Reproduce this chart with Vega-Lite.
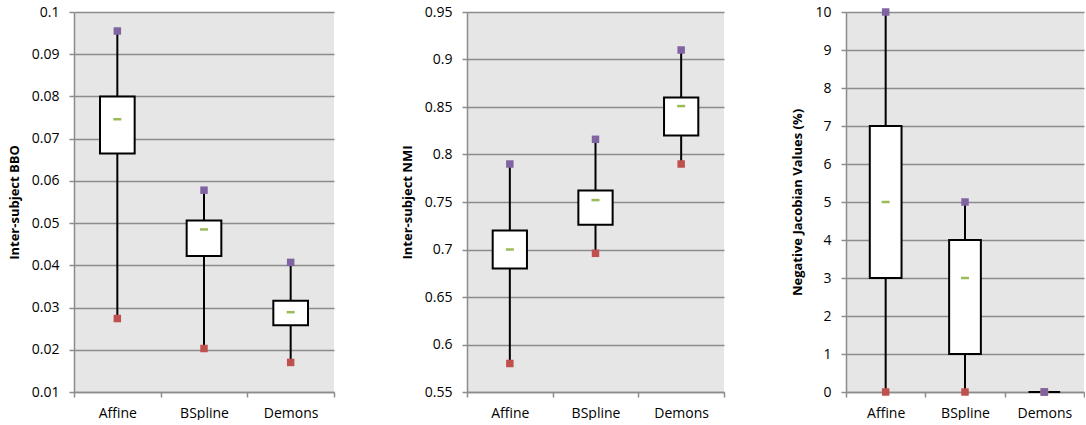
{
  "$schema": "https://vega.github.io/schema/vega-lite/v6.json",
  "background": "white",
  "padding": {"left": 8, "top": 5, "right": 0, "bottom": 0},
  "datasets": {
    "stats": [
      {"panel": "BBO", "method": "Affine", "min": 0.0274, "q1": 0.0665, "median": 0.0746, "q3": 0.08, "max": 0.0955},
      {"panel": "BBO", "method": "BSpline", "min": 0.0203, "q1": 0.0422, "median": 0.0485, "q3": 0.0506, "max": 0.0578},
      {"panel": "BBO", "method": "Demons", "min": 0.017, "q1": 0.0258, "median": 0.0289, "q3": 0.0316, "max": 0.0407},
      {"panel": "NMI", "method": "Affine", "min": 0.58, "q1": 0.68, "median": 0.70, "q3": 0.72, "max": 0.79},
      {"panel": "NMI", "method": "BSpline", "min": 0.696, "q1": 0.726, "median": 0.752, "q3": 0.762, "max": 0.816},
      {"panel": "NMI", "method": "Demons", "min": 0.79, "q1": 0.82, "median": 0.851, "q3": 0.86, "max": 0.91},
      {"panel": "Jac", "method": "Affine", "min": 0, "q1": 3, "median": 5, "q3": 7, "max": 10},
      {"panel": "Jac", "method": "BSpline", "min": 0, "q1": 1, "median": 3, "q3": 4, "max": 5},
      {"panel": "Jac", "method": "Demons", "min": 0, "q1": 0, "median": 0, "q3": 0, "max": 0}
    ]
  },
  "config": {
    "font": "Open Sans",
    "view": {"fill": "#e6e6e6", "stroke": null},
    "concat": {"spacing": 66},
    "axis": {
      "labelFont": "Open Sans", "labelFontSize": 14, "labelColor": "#000",
      "titleFont": "Open Sans", "titleFontSize": 13, "titleFontWeight": "bold", "titleColor": "#000",
      "domainColor": "#8c8c8c", "domainWidth": 1.5,
      "tickColor": "#8c8c8c", "tickWidth": 1.5, "tickSize": 5,
      "gridColor": "#8c8c8c", "gridWidth": 1.5
    },
    "axisY": {"labelOverlap": false, "labelPadding": 10, "titlePadding": 10, "grid": true}
  },
  "hconcat": [
    {
      "width": 260, "height": 380,
      "data": {"name": "stats"},
      "transform": [{"filter": "datum.panel === 'BBO'"}],
      "encoding": {
        "x": {"field": "method", "type": "nominal", "sort": ["Affine", "BSpline", "Demons"],
              "scale": {"paddingInner": 0, "paddingOuter": 0},
              "axis": {"title": null, "labelAngle": 0, "tickBand": "extent", "grid": false, "labelPadding": 9}}
      },
      "layer": [
        {"mark": {"type": "rule", "color": "#000", "strokeWidth": 2},
         "encoding": {
           "y": {"field": "min", "type": "quantitative",
                 "scale": {"domain": [0.01, 0.1], "nice": false, "zero": false},
                 "axis": {"title": "Inter-subject BBO", "values": [0.01, 0.02, 0.03, 0.04, 0.05, 0.06, 0.07, 0.08, 0.09, 0.1], "format": ".2~f"}},
           "y2": {"field": "max"}}},
        {"mark": {"type": "bar", "fill": "#fff", "stroke": "#000", "strokeWidth": 2, "width": {"band": 0.4}},
         "encoding": {"y": {"field": "q1", "type": "quantitative",
                            "axis": {"title": "Inter-subject BBO", "values": [0.01, 0.02, 0.03, 0.04, 0.05, 0.06, 0.07, 0.08, 0.09, 0.1], "format": ".2~f"}},
                      "y2": {"field": "q3"}}},
        {"mark": {"type": "tick", "color": "#9bbb59", "size": 8, "thickness": 2.5, "opacity": 1},
         "encoding": {"y": {"field": "median", "type": "quantitative",
                            "axis": {"title": "Inter-subject BBO", "values": [0.01, 0.02, 0.03, 0.04, 0.05, 0.06, 0.07, 0.08, 0.09, 0.1], "format": ".2~f"}}}},
        {"mark": {"type": "square", "color": "#c0504d", "size": 56, "opacity": 1},
         "encoding": {"y": {"field": "min", "type": "quantitative",
                            "axis": {"title": "Inter-subject BBO", "values": [0.01, 0.02, 0.03, 0.04, 0.05, 0.06, 0.07, 0.08, 0.09, 0.1], "format": ".2~f"}}}},
        {"mark": {"type": "square", "color": "#8064a2", "size": 56, "opacity": 1},
         "encoding": {"y": {"field": "max", "type": "quantitative",
                            "axis": {"title": "Inter-subject BBO", "values": [0.01, 0.02, 0.03, 0.04, 0.05, 0.06, 0.07, 0.08, 0.09, 0.1], "format": ".2~f"}}}}
      ]
    },
    {
      "width": 257, "height": 380,
      "data": {"name": "stats"},
      "transform": [{"filter": "datum.panel === 'NMI'"}],
      "encoding": {
        "x": {"field": "method", "type": "nominal", "sort": ["Affine", "BSpline", "Demons"],
              "scale": {"paddingInner": 0, "paddingOuter": 0},
              "axis": {"title": null, "labelAngle": 0, "tickBand": "extent", "grid": false, "labelPadding": 9}}
      },
      "layer": [
        {"mark": {"type": "rule", "color": "#000", "strokeWidth": 2},
         "encoding": {
           "y": {"field": "min", "type": "quantitative",
                 "scale": {"domain": [0.55, 0.95], "nice": false, "zero": false},
                 "axis": {"title": "Inter-subject NMI", "values": [0.55, 0.6, 0.65, 0.7, 0.75, 0.8, 0.85, 0.9, 0.95], "format": ".2~f"}},
           "y2": {"field": "max"}}},
        {"mark": {"type": "bar", "fill": "#fff", "stroke": "#000", "strokeWidth": 2, "width": {"band": 0.4}},
         "encoding": {"y": {"field": "q1", "type": "quantitative",
                            "axis": {"title": "Inter-subject NMI", "values": [0.55, 0.6, 0.65, 0.7, 0.75, 0.8, 0.85, 0.9, 0.95], "format": ".2~f"}},
                      "y2": {"field": "q3"}}},
        {"mark": {"type": "tick", "color": "#9bbb59", "size": 8, "thickness": 2.5, "opacity": 1},
         "encoding": {"y": {"field": "median", "type": "quantitative",
                            "axis": {"title": "Inter-subject NMI", "values": [0.55, 0.6, 0.65, 0.7, 0.75, 0.8, 0.85, 0.9, 0.95], "format": ".2~f"}}}},
        {"mark": {"type": "square", "color": "#c0504d", "size": 56, "opacity": 1},
         "encoding": {"y": {"field": "min", "type": "quantitative",
                            "axis": {"title": "Inter-subject NMI", "values": [0.55, 0.6, 0.65, 0.7, 0.75, 0.8, 0.85, 0.9, 0.95], "format": ".2~f"}}}},
        {"mark": {"type": "square", "color": "#8064a2", "size": 56, "opacity": 1},
         "encoding": {"y": {"field": "max", "type": "quantitative",
                            "axis": {"title": "Inter-subject NMI", "values": [0.55, 0.6, 0.65, 0.7, 0.75, 0.8, 0.85, 0.9, 0.95], "format": ".2~f"}}}}
      ]
    },
    {
      "width": 238, "height": 380,
      "data": {"name": "stats"},
      "transform": [{"filter": "datum.panel === 'Jac'"}],
      "encoding": {
        "x": {"field": "method", "type": "nominal", "sort": ["Affine", "BSpline", "Demons"],
              "scale": {"paddingInner": 0, "paddingOuter": 0},
              "axis": {"title": null, "labelAngle": 0, "tickBand": "extent", "grid": false, "labelPadding": 9}}
      },
      "layer": [
        {"mark": {"type": "rule", "color": "#000", "strokeWidth": 2},
         "encoding": {
           "y": {"field": "min", "type": "quantitative",
                 "scale": {"domain": [0, 10], "nice": false},
                 "axis": {"title": "Negative Jacobian Values (%)", "values": [0, 1, 2, 3, 4, 5, 6, 7, 8, 9, 10], "format": "d"}},
           "y2": {"field": "max"}}},
        {"mark": {"type": "bar", "fill": "#fff", "stroke": "#000", "strokeWidth": 2, "width": {"band": 0.4}},
         "encoding": {"y": {"field": "q1", "type": "quantitative",
                            "axis": {"title": "Negative Jacobian Values (%)", "values": [0, 1, 2, 3, 4, 5, 6, 7, 8, 9, 10], "format": "d"}},
                      "y2": {"field": "q3"}}},
        {"mark": {"type": "tick", "color": "#9bbb59", "size": 8, "thickness": 2.5, "opacity": 1},
         "encoding": {"y": {"field": "median", "type": "quantitative",
                            "axis": {"title": "Negative Jacobian Values (%)", "values": [0, 1, 2, 3, 4, 5, 6, 7, 8, 9, 10], "format": "d"}}}},
        {"mark": {"type": "square", "color": "#c0504d", "size": 56, "opacity": 1},
         "encoding": {"y": {"field": "min", "type": "quantitative",
                            "axis": {"title": "Negative Jacobian Values (%)", "values": [0, 1, 2, 3, 4, 5, 6, 7, 8, 9, 10], "format": "d"}}}},
        {"mark": {"type": "square", "color": "#8064a2", "size": 56, "opacity": 1},
         "encoding": {"y": {"field": "max", "type": "quantitative",
                            "axis": {"title": "Negative Jacobian Values (%)", "values": [0, 1, 2, 3, 4, 5, 6, 7, 8, 9, 10], "format": "d"}}}}
      ]
    }
  ]
}
